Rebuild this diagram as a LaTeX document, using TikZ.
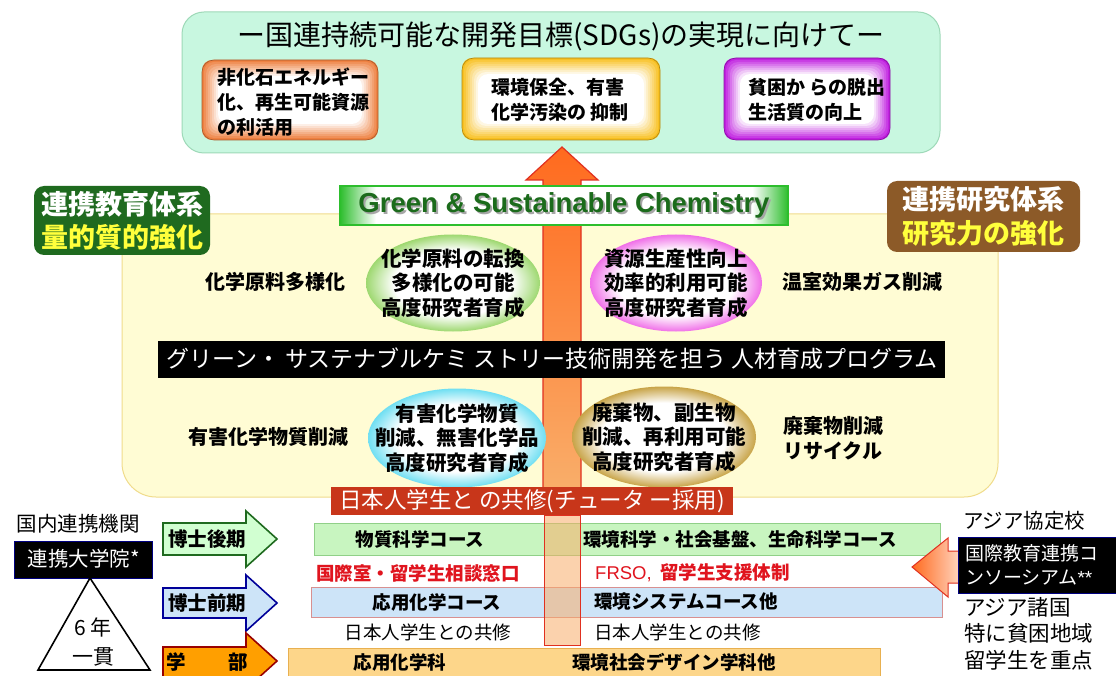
\documentclass[tikz,border=0pt]{standalone}
\usepackage{fontspec}
\setmainfont{Liberation Sans}
\newfontfamily\jp{Noto Sans CJK JP}
\newfontfamily\lsans{Liberation Sans}
\usetikzlibrary{shapes.geometric}
\definecolor{topfill}{HTML}{C8F7E0}
\definecolor{topdraw}{HTML}{9ED9B8}
\definecolor{yfill}{HTML}{FFFCD4}
\definecolor{ydraw}{HTML}{F0DC8C}
\definecolor{glab}{HTML}{1F6A1F}
\definecolor{blab}{HTML}{8C5A28}
\definecolor{labyel}{HTML}{FFFF3C}
\definecolor{arrorange}{HTML}{FF6A1E}
\definecolor{arrlight}{HTML}{F9AE6A}
\definecolor{arrred}{HTML}{E03020}
\definecolor{olabel}{HTML}{C8361A}
\definecolor{gbgreen}{HTML}{2DBE2D}
\definecolor{gbtext}{HTML}{1B6B1B}
\definecolor{grow}{HTML}{C8F5C0}
\definecolor{growd}{HTML}{90D088}
\definecolor{brow}{HTML}{CDE4F8}
\definecolor{browd}{HTML}{D89090}
\definecolor{orow}{HTML}{FDD68A}
\definecolor{orowd}{HTML}{E8B050}
\definecolor{redtxt}{HTML}{E0141E}
\definecolor{elgreen}{HTML}{9ED870}
\definecolor{elpink}{HTML}{F070E8}
\definecolor{elcyan}{HTML}{70DFF2}
\definecolor{elgold}{HTML}{C8A448}
\definecolor{bxorange}{HTML}{EE8040}
\definecolor{bxyellow}{HTML}{F8C020}
\definecolor{bxpurple}{HTML}{C020E0}
\pgfdeclareradialshading{glowgreen}{\pgfpoint{0bp}{0bp}}{color(0bp)=(white); color(17bp)=(white); color(25bp)=(elgreen); color(50bp)=(elgreen)}
\pgfdeclareradialshading{glowpink}{\pgfpoint{0bp}{0bp}}{color(0bp)=(white); color(17bp)=(white); color(25bp)=(elpink); color(50bp)=(elpink)}
\pgfdeclareradialshading{glowcyan}{\pgfpoint{0bp}{0bp}}{color(0bp)=(white); color(17bp)=(white); color(25bp)=(elcyan); color(50bp)=(elcyan)}
\pgfdeclareradialshading{glowgold}{\pgfpoint{0bp}{0bp}}{color(0bp)=(white); color(17bp)=(white); color(25bp)=(elgold); color(50bp)=(elgold)}
\pgfdeclarehorizontalshading{gbshade}{100bp}{color(0bp)=(gbgreen); color(25bp)=(gbgreen); color(29bp)=(white); color(71bp)=(white); color(75bp)=(gbgreen); color(100bp)=(gbgreen)}
\newcommand\glowrect[5]{%
  \foreach \k in {0,...,8}{%
    \pgfmathsetmacro\pc{100-12.5*\k}%
    \fill[#1!\pc!white, rounded corners=10pt] (#2+2*\k,#3+2*\k) rectangle (#4-2*\k,#5-2*\k);}%
  \draw[#1!70!black, line width=0.6, rounded corners=12pt] (#2,#3) rectangle (#4,#5);}
\newcommand\fs[2]{\fontsize{#1}{#2}\selectfont}
\newcommand\shadowtext[1]{\rlap{\hspace{2pt}\raisebox{-2pt}{\textcolor{black!35}{#1}}}#1}
\begin{document}
\begin{tikzpicture}[x=1pt,y=-1pt,
  t/.style={inner sep=0pt, align=center},
  tl/.style={inner sep=0pt, align=left},
  bx/.style={font=\jp\bfseries\fs{19}{25}},
  el/.style={ellipse, inner sep=0pt},
  elt/.style={inner sep=0pt, align=center, font=\jp\bfseries\fs{20.5}{24.5}},
  side/.style={inner sep=0pt, align=left, font=\jp\bfseries\fs{20}{25}},
  row/.style={inner sep=0pt, font=\jp\bfseries\fs{18.5}{22}},
  rowr/.style={inner sep=0pt, font=\jp\fs{18.5}{22}},
  red/.style={inner sep=0pt, font=\jp\bfseries\fs{18.5}{22}, text=redtxt}]
\useasboundingbox (0,0) rectangle (1116,676);
\fill[white] (0,0) rectangle (1116,676);

% ---------- top SDG box ----------
\draw[draw=topdraw, fill=topfill, line width=1, rounded corners=22pt] (182,12) rectangle (940,153);
\node[t, font=\jp\fs{28}{30}] (title) at (561,36) {ー国連持続可能な開発目標(SDGs)の実現に向けてー};
\glowrect{bxorange}{202}{60}{378}{140}
\glowrect{bxyellow}{462}{58}{660}{140}
\glowrect{bxpurple}{724}{58}{890}{140}
\node[tl, bx, anchor=west] (g1) at (217,102) {非化石エネルギー\\化、再生可能資源\\の利活用};
\node[tl, bx, anchor=west] (g2) at (491,100) {環境保全、有害\\化学汚染の 抑制};
\node[tl, bx, anchor=west] (g3) at (748,100) {貧困か らの脱出\\生活質の向上};

% ---------- yellow area ----------
\draw[draw=ydraw, fill=yfill, line width=1, rounded corners=34pt] (122,214) rectangle (998,497);

% ---------- central arrow ----------
\draw[draw=arrred, top color=arrorange, bottom color=arrlight, line width=1.2]
  (562,147) -- (598,180) -- (581,180) -- (581,490) -- (543,490) -- (543,180) -- (526,180) -- cycle;

% ---------- Green & Sustainable Chemistry banner ----------
\shade[shading=gbshade] (340,186) rectangle (788,225);
\draw[gbgreen, line width=1.5] (340,186) rectangle (788,225);
\node[t, font=\lsans\bfseries\fs{27.5}{30}, text=gbtext] (gsc) at (564,206) {\shadowtext{Green \& Sustainable Chemistry}};

% ---------- side labels ----------
\fill[glab, rounded corners=10pt] (34,186) rectangle (210,255);
\node[t, font=\jp\bfseries\fs{27}{30}, text=white] (edu1) at (122,204) {連携教育体系};
\node[t, font=\jp\bfseries\fs{27}{30}, text=labyel] (edu2) at (122,237) {量的質的強化};
\fill[blab, rounded corners=10pt] (887,181) rectangle (1080,252);
\node[t, font=\jp\bfseries\fs{27}{30}, text=white] (res1) at (983,199) {連携研究体系};
\node[t, font=\jp\bfseries\fs{27}{30}, text=labyel] (res2) at (983,233) {研究力の強化};

% ---------- ellipses ----------
\node[el, minimum width=174, minimum height=97, shading=glowgreen] (e1) at (453,283) {};
\node[elt] (e1t) at (e1) {化学原料の転換\\多様化の可能\\高度研究者育成};
\node[el, minimum width=172, minimum height=97, shading=glowpink] (e2) at (676,283) {};
\node[elt] (e2t) at (e2) {資源生産性向上\\効率的利用可能\\高度研究者育成};
\node[el, minimum width=178, minimum height=99, shading=glowcyan] (e3) at (457,438) {};
\node[elt] (e3t) at (e3) {有害化学物質\\削減、無害化学品\\高度研究者育成};
\node[el, minimum width=184, minimum height=101, shading=glowgold] (e4) at (664,437) {};
\node[elt] (e4t) at (e4) {廃棄物、副生物\\削減、再利用可能\\高度研究者育成};

\node[side] (s1) at (275,282) {化学原料多様化};
\node[side] (s2) at (862,282) {温室効果ガス削減};
\node[side] (s3) at (268,437) {有害化学物質削減};
\node[side, anchor=west] (s4) at (783,438) {廃棄物削減\\リサイクル};

% ---------- black program banner ----------
\fill[black] (158,341) rectangle (945,378);
\node[t, font=\jp\fs{23}{26}, text=white] (prog) at (552,359) {グリーン・ サステナブルケミ ストリー技術開発を担う 人材育成プログラム};

% ---------- bottom rows ----------
\draw[draw=growd, fill=grow, line width=0.8] (314,523) rectangle (940,555);
\draw[draw=browd, fill=brow, line width=0.8] (311,587) rectangle (942,617);
\draw[draw=orowd, fill=orow, line width=0.8] (288,648) rectangle (880,680);
\fill[arrlight, opacity=0.55] (544,515) rectangle (580,645);
\draw[arrred, line width=1] (544,515) rectangle (580,645);

\fill[olabel] (331,487) rectangle (733,515);
\node[t, font=\jp\fs{22.5}{24}, text=white] (kyo) at (532,501) {日本人学生と の共修(チュータ ー採用)};

\node[row] (r1a) at (420,539) {物質科学コース};
\node[row, anchor=west] (r1b) at (583,539) {環境科学・社会基盤、生命科学コース};
\node[red] (r2a) at (418,573) {国際室・留学生相談窓口};
\node[red, anchor=west] (r2b) at (595,573) {{\lsans\mdseries FRSO,}\ \ 留学生支援体制};
\node[row] (r3a) at (437,602) {応用化学コース};
\node[row, anchor=west] (r3b) at (594,602) {環境システムコース他};
\node[rowr] (r4a) at (428,632) {日本人学生との共修};
\node[rowr, anchor=west] (r4b) at (594,632) {日本人学生との共修};
\node[row] (r5a) at (400,662) {応用化学科};
\node[row, anchor=west] (r5b) at (572,662) {環境社会デザイン学科他};

% ---------- left block arrows ----------
\draw[draw=glab, fill=green!18, line width=1.6]
  (163,523) -- (246,523) -- (246,511) -- (277,539) -- (246,567) -- (246,555) -- (163,555) -- cycle;
\node[t, font=\jp\bfseries\fs{19.5}{22}] (d1) at (207,539) {博士後期};
\draw[draw=blue!60!black, fill=brow, line width=1.6]
  (163,588) -- (246,588) -- (246,575) -- (277,603) -- (246,631) -- (246,618) -- (163,618) -- cycle;
\node[t, font=\jp\bfseries\fs{19.5}{22}] (d2) at (207,603) {博士前期};
\draw[draw=red!60!black, fill=orange!75!yellow, line width=1.6]
  (163,647) -- (246,647) -- (246,633) -- (277,661) -- (246,689) -- (246,677) -- (163,677) -- cycle;
\node[t, font=\jp\bfseries\fs{19.5}{22}] (d3) at (207,662) {学\hspace{2.2em}部};

% ---------- left: domestic partners ----------
\node[t, font=\jp\fs{20.5}{24}] (dom) at (78,524) {国内連携機関};
\fill[black] (14,541) rectangle (152,578);
\draw[blue!50!black, line width=0.6] (14,541) rectangle (152,578);
\node[t, font=\jp\fs{20.5}{24}, text=white] (renkei) at (84,559) {連携大学院*};
\draw[black, fill=white, line width=1.6] (90,578) -- (150,670) -- (38,670) -- cycle;
\node[t, font=\jp\fs{21}{24}] (six) at (93,627) {6 年};
\node[t, font=\jp\fs{21}{24}] (ikkan) at (93,657) {一貫};

% ---------- right: Asian partners ----------
\node[t, font=\jp\fs{20.5}{24}, anchor=west] (asia) at (963,521) {アジア協定校};
\shade[left color=arrorange, right color=arrorange!25!white, draw=arrred, line width=1]
  (912,567) -- (948,538) -- (948,551) -- (962,551) -- (962,583) -- (948,583) -- (948,597) -- cycle;
\fill[black] (958,537) rectangle (1116,593);
\draw[blue!50!black, line width=0.6] (958,537) rectangle (1116,593);
\node[tl, font=\jp\fs{19}{24}, text=white, anchor=west] (cons) at (965,565) {国際教育連携コ\\ンソーシアム{\lsans**}};
\node[tl, font=\jp\fs{21.5}{26.5}, anchor=north west] (asia2) at (964,597) {アジア諸国\\特に貧困地域\\留学生を重点};
\end{tikzpicture}
\end{document}
